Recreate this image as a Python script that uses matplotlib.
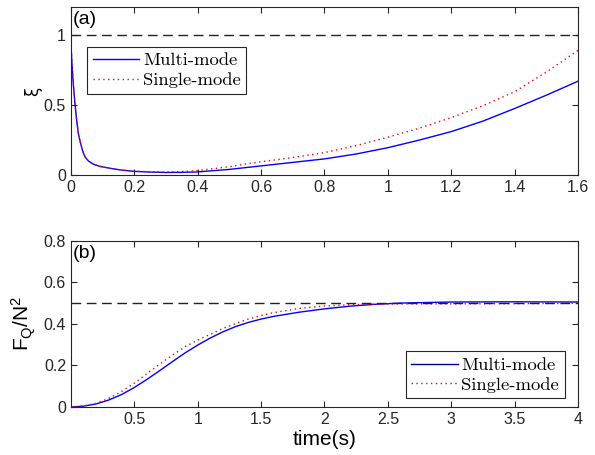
import matplotlib
matplotlib.use("Agg")
import matplotlib.pyplot as plt
import numpy as np

# squeezing parameter xi(t)
t_xi = [0.0, 0.003, 0.007, 0.0126, 0.018, 0.023, 0.03, 0.037, 0.044, 0.055, 0.07, 0.09, 0.123,
        0.16, 0.2, 0.25, 0.3, 0.35, 0.4, 0.5, 0.6, 0.7, 0.8, 0.9, 1.0, 1.1, 1.2, 1.3, 1.4, 1.5, 1.6]
xi_multi = [0.93, 0.80, 0.66, 0.51, 0.39, 0.30, 0.23, 0.17, 0.13, 0.10, 0.078, 0.062, 0.048,
            0.035, 0.026, 0.021, 0.018, 0.019, 0.022, 0.040, 0.065, 0.09, 0.115, 0.15, 0.195,
            0.25, 0.31, 0.385, 0.475, 0.57, 0.67]
xi_single = [0.93, 0.80, 0.66, 0.51, 0.39, 0.30, 0.23, 0.17, 0.13, 0.10, 0.078, 0.062, 0.048,
             0.035, 0.027, 0.023, 0.022, 0.025, 0.031, 0.06, 0.095, 0.125, 0.16, 0.21, 0.27,
             0.335, 0.41, 0.495, 0.595, 0.735, 0.89]

# normalized quantum Fisher information F_Q/N^2
t_fq = [0.0, 0.1, 0.2, 0.3, 0.4, 0.5, 0.6, 0.7, 0.8, 0.9, 1.0, 1.1, 1.2, 1.3, 1.4, 1.5,
        1.6, 1.8, 2.0, 2.2, 2.4, 2.6, 3.0, 3.5, 4.0]
fq_multi = [0.0, 0.004, 0.015, 0.034, 0.06, 0.094, 0.133, 0.175, 0.218, 0.26, 0.298, 0.332,
            0.362, 0.387, 0.407, 0.423, 0.436, 0.456, 0.472, 0.485, 0.494, 0.500, 0.505,
            0.506, 0.505]
fq_single = [0.0, 0.005, 0.018, 0.042, 0.075, 0.115, 0.161, 0.206, 0.25, 0.29, 0.322, 0.35,
             0.378, 0.402, 0.423, 0.44, 0.454, 0.474, 0.486, 0.492, 0.495, 0.496, 0.496,
             0.497, 0.499]

labels = ["Multi-mode", "Single-mode"]

plt.rcParams["font.family"] = ["Liberation Sans", "DejaVu Sans"]
plt.rcParams["axes.edgecolor"] = "#262626"
plt.rcParams["xtick.color"] = "#262626"
plt.rcParams["ytick.color"] = "#262626"
plt.rcParams["xtick.direction"] = "in"
plt.rcParams["ytick.direction"] = "in"
plt.rcParams["mathtext.fontset"] = "custom"
plt.rcParams["mathtext.rm"] = "Liberation Sans"
plt.rcParams["mathtext.it"] = "Liberation Sans:italic"

fig = plt.figure(figsize=(5.95, 4.55), dpi=100)
ax1 = fig.add_axes([0.1193, 0.6154, 0.852, 0.369])
ax2 = fig.add_axes([0.1193, 0.1055, 0.852, 0.3655])

leg_font = {"family": "cmr10", "size": 13.4}
leg_kw = dict(prop=leg_font, frameon=True, fancybox=False, edgecolor="#262626",
              handlelength=2.5, borderpad=0.3, borderaxespad=0.0, labelspacing=0.2,
              handletextpad=0.2, framealpha=1.0)

# (a)
ax1.plot(t_xi, xi_multi, color="blue", lw=1.0, label=labels[0])
ax1.plot(t_xi, xi_single, color="red", lw=1.0, ls=(0, (1, 2.5)), label=labels[1])
ax1.axhline(1.0, color="#222222", lw=1.0, ls=(0, (7, 4)))
ax1.set_xlim(0, 1.6)
ax1.set_ylim(0, 1.2)
ax1.set_xticks(np.arange(0, 1.61, 0.2))
ax1.set_xticklabels(["0", "0.2", "0.4", "0.6", "0.8", "1", "1.2", "1.4", "1.6"])
ax1.set_yticks([0, 0.5, 1])
ax1.set_yticklabels(["0", "0.5", "1"])
ax1.set_ylabel("ξ", fontsize=12, family="DejaVu Sans", labelpad=1)
ax1.text(0.003, 0.975, "(a)", transform=ax1.transAxes, ha="left", va="top", fontsize=14)
leg1 = ax1.legend(loc="upper left", bbox_to_anchor=(0.032, 0.764), **leg_kw)
leg1.get_frame().set_linewidth(0.8)

# (b)
ax2.plot(t_fq, fq_multi, color="blue", lw=1.0, label=labels[0])
ax2.plot(t_fq, fq_single, color="red", lw=1.0, ls=(0, (1, 2.5)), label=labels[1])
ax2.axhline(0.5, color="#222222", lw=1.0, ls=(0, (7, 4)))
ax2.set_xlim(0, 4)
ax2.set_ylim(0, 0.8)
ax2.set_xticks(np.arange(0.5, 4.01, 0.5))
ax2.set_xticklabels(["0.5", "1", "1.5", "2", "2.5", "3", "3.5", "4"])
ax2.set_yticks(np.arange(0, 0.81, 0.2))
ax2.set_yticklabels(["0", "0.2", "0.4", "0.6", "0.8"])
ax2.set_ylabel(r"F$_\mathregular{Q}$/N$^\mathregular{2}$", fontsize=15)
ax2.set_xlabel("time(s)", fontsize=15, labelpad=2)
ax2.text(0.003, 0.975, "(b)", transform=ax2.transAxes, ha="left", va="top", fontsize=14)
leg2 = ax2.legend(loc="lower right", bbox_to_anchor=(0.974, 0.052), **leg_kw)
leg2.get_frame().set_linewidth(0.8)
leg2.get_lines()[0].set_color("#0000a0")

for ax in (ax1, ax2):
    ax.tick_params(axis="both", which="both", top=True, right=True, labelsize=11.5,
                   length=4, width=0.8)
    for s in ax.spines.values():
        s.set_linewidth(0.8)

fig.savefig("out.png", dpi=100)
